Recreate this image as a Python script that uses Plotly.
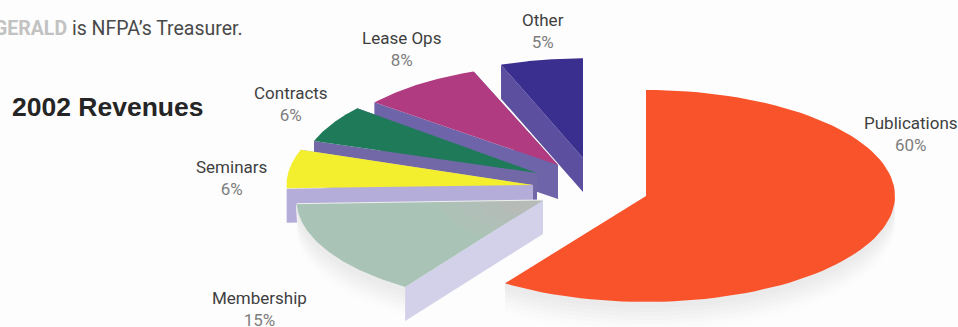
import numpy as np
import plotly.graph_objects as go

# Data
categories = ["Publications", "Membership", "Seminars", "Contracts", "Lease Ops", "Other"]
shares = [60, 15, 6, 6, 8, 5]

# Drawing geometry of the exploded, tilted pie (pixel scale of the picture)
RX, RY = 249.0, 106.0
DEPTH = 34.0
apex_x = [646, 543, 533, 537, 558, 583]
apex_y = [196, 200, 185, 173, 165, 158]
radius_scale = [1.0, 0.99, 0.99, 0.945, 0.945, 0.94]
angle_shift = [0, 2, 2, 3, 3, 0]
start_pad = [0, 0, 0, 0, 1.5, 2.5]
end_pad = [1.5, 0, 0, 0, 0, 0]
label_x = [911, 259, 231, 291, 401, 543]
label_y = [134, 309, 178, 104, 49, 31]
top_colors = ["#f9532b", "#a9c3b6", "#f3ee2e", "#1f7a5a", "#b13b80", "#3a2f8e"]
cut_colors = ["#f0f0f0", "#d2d1e9", "#b4acd9", "#7268a8", "#6e64a9", "#5c4fa0"]
rim_depths = [30, 26, 22, 18, 14, 10, 6]
rim_colors = ["#fcfcfc", "#fafafa", "#f7f7f7", "#f4f4f4", "#f1f1f1", "#eeeeee", "#ebebeb"]
tip_scales = [0.42, 0.34, 0.26, 0.18]
tip_colors = ["#adc1b6", "#b0bfb7", "#b3bdb8", "#b6bbb8"]
draw_order = [5, 4, 3, 2, 1, 0]

# Clockwise slice angles, from 12 o'clock, derived from the shares
ends = 90 - 3.6 * np.cumsum(shares) + np.array(end_pad)
starts = 90 - 3.6 * np.cumsum(shares) + 3.6 * np.array(shares) + np.array(start_pad)


def arc(i, n=90, scale=1.0):
    a = np.radians(np.linspace(starts[i], ends[i], n) + angle_shift[i])
    x = apex_x[i] + RX * radius_scale[i] * scale * np.cos(a)
    y = apex_y[i] - RY * radius_scale[i] * scale * np.sin(a)
    return x, y


def poly(x, y, color):
    return go.Scatter(x=list(x), y=list(y), mode="lines", fill="toself", fillcolor=color,
                      line=dict(width=0, color=color), hoverinfo="skip", showlegend=False)


fig = go.Figure()
for i in draw_order:
    x, y = arc(i)
    cx, cy = apex_x[i], apex_y[i]
    # soft lower rim on the two front slices
    if i in (0, 1):
        vis = np.sin(np.radians(np.linspace(starts[i], ends[i], 90) + angle_shift[i])) <= 0.02
        rx_, ry_ = x[vis], y[vis]
        for d, c in zip(rim_depths, rim_colors):
            fig.add_trace(poly(np.r_[rx_, rx_[::-1]], np.r_[ry_, ry_[::-1] + d], c))
    # radial cut faces of the slice
    if i != 0:
        ex, ey = x[0], y[0]
        fig.add_trace(poly([ex, cx, cx, ex, ex], [ey, cy, cy + DEPTH, ey + DEPTH, ey], cut_colors[i]))
        if i != 1:
            ex, ey = x[-1], y[-1]
            fig.add_trace(poly([ex, cx, cx, ex, ex], [ey, cy, cy + DEPTH, ey + DEPTH, ey], cut_colors[i]))
    # top face
    fig.add_trace(poly(np.r_[cx, x, cx], np.r_[cy, y, cy], top_colors[i]))
    if i == 1:
        for sc, col in zip(tip_scales, tip_colors):
            tx, ty = arc(i, scale=sc)
            fig.add_trace(poly(np.r_[cx, tx, cx], np.r_[cy, ty, cy], col))
        fig.add_trace(go.Scatter(x=[x[-1], cx], y=[y[-1], cy], mode="lines", hoverinfo="skip",
                                 showlegend=False, line=dict(color="#eef0ee", width=1)))

ann = []
for name, s, lx, ly in zip(categories, shares, label_x, label_y):
    ann.append(dict(x=lx, y=ly, xref="x", yref="y", showarrow=False, xanchor="center", yanchor="middle",
                    align="center", font=dict(family="Roboto", size=17, color="#3f3f3f"),
                    text=f"{name}<br><span style='color:#7d7d7d'>{s}%</span>"))
ann.append(dict(x=10, y=107, xref="x", yref="y", showarrow=False, xanchor="left", yanchor="middle",
                font=dict(family="Liberation Sans, Arial", size=26.5, color="#252525"), text="<b>2002 Revenues</b>"))
ann.append(dict(x=245, y=28, xref="x", yref="y", showarrow=False, xanchor="right", yanchor="middle",
                font=dict(family="Roboto", size=19.5, color="#4a4a4a"),
                text="<span style='color:#c2c2c2'><b>GERALD</b></span> is NFPA’s Treasurer."))

fig.update_layout(width=958, height=327, margin=dict(l=0, r=0, t=0, b=0), paper_bgcolor="#fdfdfd",
                  plot_bgcolor="#fdfdfd", showlegend=False, annotations=ann,
                  xaxis=dict(range=[0, 958], visible=False, fixedrange=True),
                  yaxis=dict(range=[327, 0], visible=False, fixedrange=True))
fig.write_html("out.html", config={"displayModeBar": False},
               post_script="document.body.style.margin='0';document.body.style.background='#fdfdfd';document.body.style.overflow='hidden';")
